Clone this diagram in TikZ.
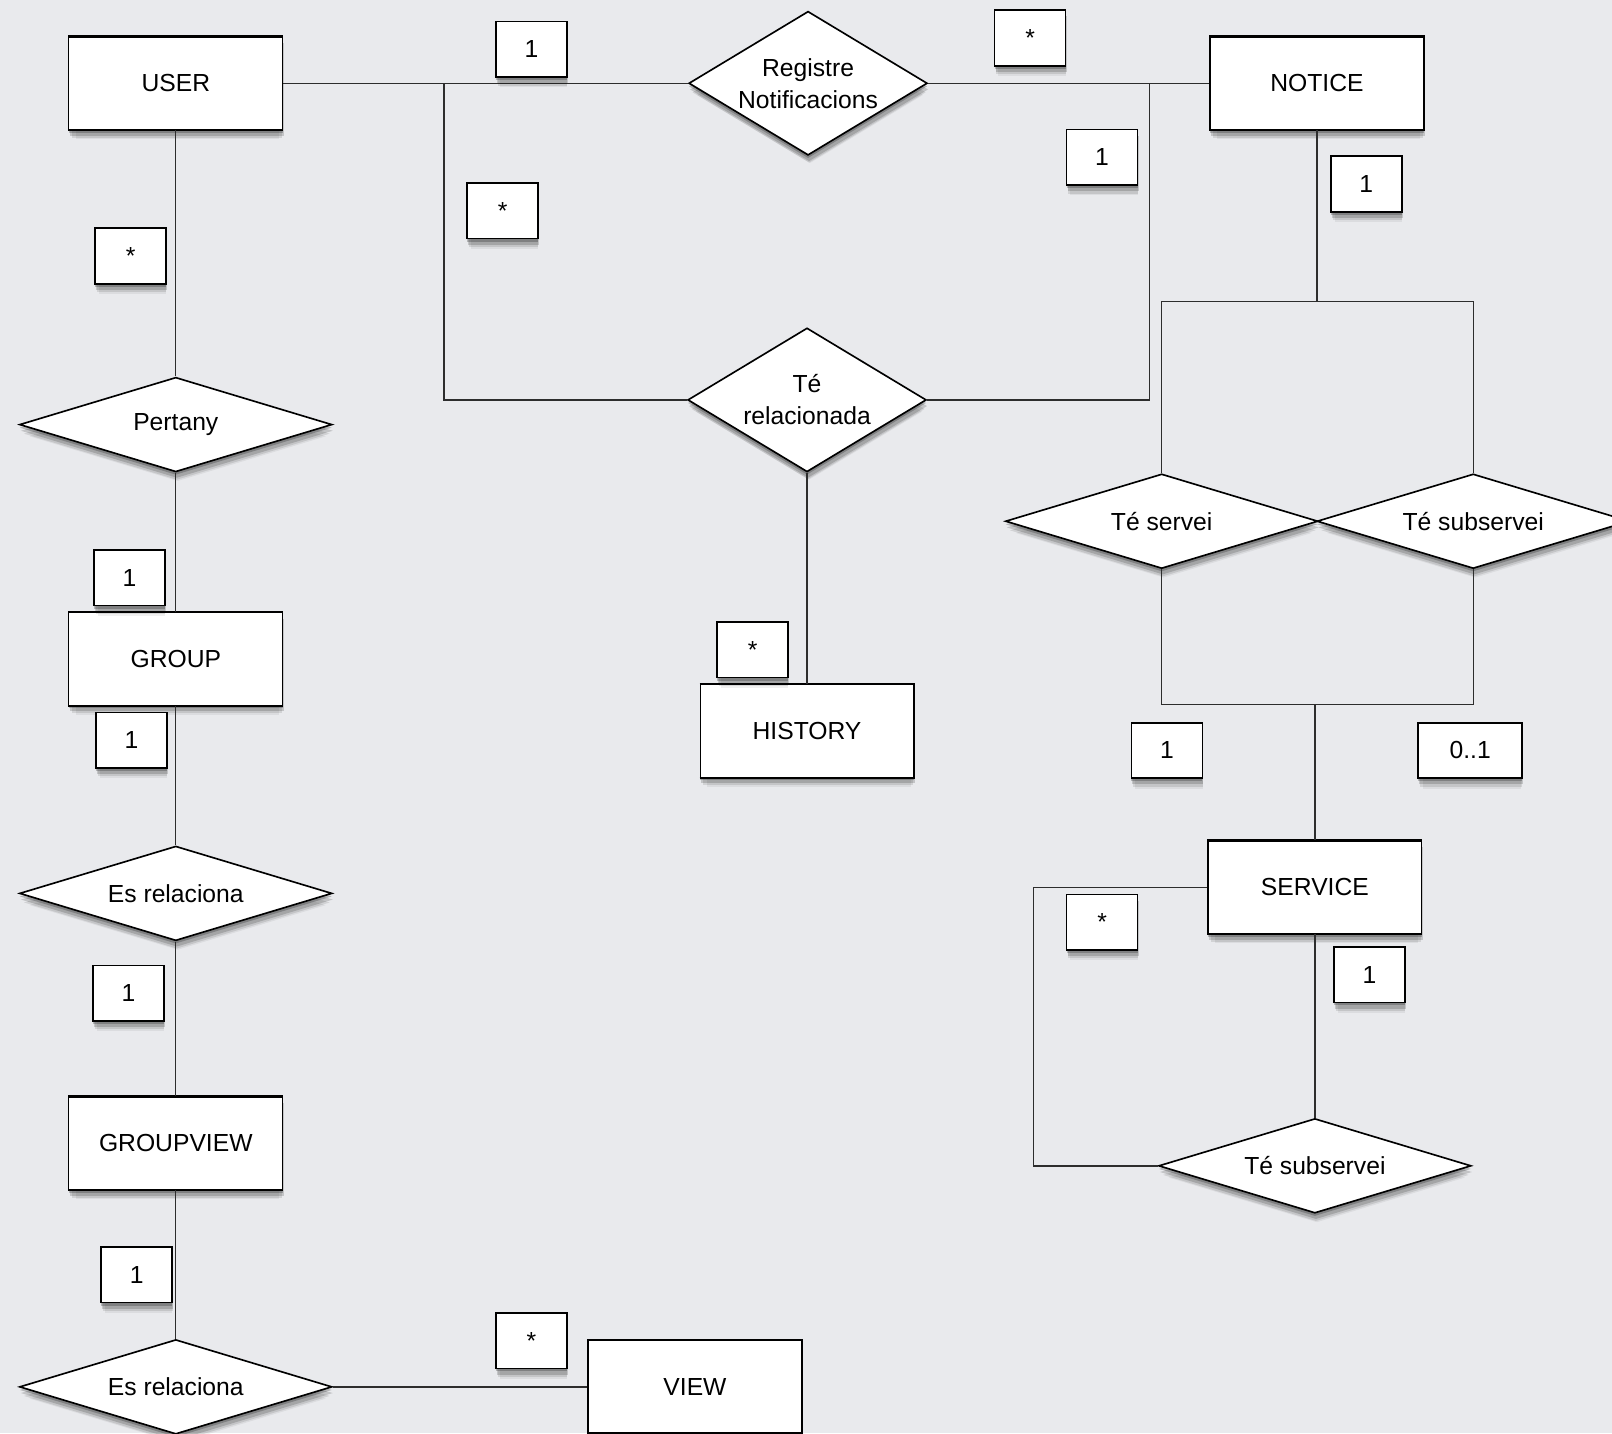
\documentclass[tikz,border=0pt]{standalone}
\usepackage{fontspec}
\setmainfont{Liberation Sans}
\usetikzlibrary{shapes.geometric,shadows}
\definecolor{bgcol}{RGB}{233,234,237}
\definecolor{conncol}{RGB}{45,45,45}
\begin{document}
\begin{tikzpicture}[x=1pt,y=-1pt,
  every node/.style={font=\fontsize{24}{31}\selectfont},
  softshadow/.style={
    drop shadow={shadow xshift=0pt,shadow yshift=-3pt,opacity=.22,fill=black},
    drop shadow={shadow xshift=1pt,shadow yshift=-6pt,opacity=.16,fill=black},
    drop shadow={shadow xshift=1pt,shadow yshift=-9pt,shadow scale=.98,opacity=.10,fill=black},
    drop shadow={shadow xshift=2pt,shadow yshift=-12pt,shadow scale=.95,opacity=.06,fill=black}},
  entity/.style={draw=black,fill=white,line width=1.2pt,minimum width=208pt,
    minimum height=90pt,inner sep=0pt,softshadow},
  relbase/.style={diamond,draw=black,fill=white,line width=1.6pt,inner sep=0pt,
    align=center,softshadow},
  bigrel/.style={relbase,minimum width=232pt,minimum height=140pt,aspect=1.66},
  smallrel/.style={relbase,minimum width=304pt,minimum height=92pt,aspect=3.3},
  card/.style={draw=black,fill=white,line width=1.6pt,minimum width=69pt,
    minimum height=54pt,inner sep=0pt,softshadow},
  conn/.style={draw=conncol,line width=1.3pt}
]
\useasboundingbox (0,0) rectangle (1568,1394);
\clip (0,0) rectangle (1568,1394);
\fill[bgcol] (0,0) rectangle (1568,1394);

% entities
\node[entity] (user) at (171,81) {USER};
\node[entity] (notice) at (1281,81) {NOTICE};
\node[entity] (group) at (171,641) {GROUP};
\node[entity] (history) at (785,711) {HISTORY};
\node[entity] (service) at (1279,863) {SERVICE};
\node[entity] (groupview) at (171,1112) {GROUPVIEW};
\node[entity] (view) at (676,1349) {VIEW};
\foreach \n in {user,notice,group,history,service,groupview,view}{
  \draw[line width=2.6pt] (\n.north west) -- (\n.north east)
                          (\n.south west) -- (\n.south east);
}

% relationships
\node[bigrel] (reg) at (786,81) {Registre\\Notificacions};
\node[bigrel] (terel) at (785,389) {Té\\relacionada};
\node[smallrel] (pertany) at (171,413) {Pertany};
\node[smallrel] (esrel1) at (171,869) {Es relaciona};
\node[smallrel] (esrel2) at (171,1349) {Es relaciona};
\node[smallrel] (teservei) at (1130,507) {Té servei};
\node[smallrel] (tesub1) at (1433,507) {Té subservei};
\node[smallrel] (tesub2) at (1279,1134) {Té subservei};

% junction points
\coordinate (j1) at (432,81);
\coordinate (j2) at (1118,81);
\coordinate (j3) at (1281,293);
\coordinate (j4) at (1279,685);
\coordinate (j5) at (1005,863);

% connectors
\draw[conn] (user.east) -- (reg.west);
\draw[conn] (reg.east) -- (notice.west);
\draw[conn] (j1) |- (terel.west);
\draw[conn] (terel.east) -| (j2);
\draw[conn] (terel.south) -- (history.north);
\draw[conn] (notice.south) -- (j3);
\draw[conn] (teservei.north) |- (j3) -| (tesub1.north);
\draw[conn] (teservei.south) |- (j4) -| (tesub1.south);
\draw[conn] (j4) -- (service.north);
\draw[conn] (service.west) -- (j5) |- (tesub2.west);
\draw[conn] (service.south) -- (tesub2.north);
\draw[conn] (user.south) -- (pertany.north);
\draw[conn] (pertany.south) -- (group.north);
\draw[conn] (group.south) -- (esrel1.north);
\draw[conn] (esrel1.south) -- (groupview.north);
\draw[conn] (groupview.south) -- (esrel2.north);
\draw[conn] (esrel2.east) -- (view.west);

% cardinalities
\node[card] (c1) at (517,48) {1};
\node[card] (c2) at (1002,37) {*};
\node[card] (c3) at (1072,153) {1};
\node[card] (c4) at (489,205) {*};
\node[card] (c5) at (127,249) {*};
\node[card] (c6) at (1329,179) {1};
\node[card] (c7) at (126,562) {1};
\node[card] (c8) at (128,720) {1};
\node[card] (c9) at (732,632) {*};
\node[card] (c10) at (1135,730) {1};
\node[card,minimum width=101pt] (c11) at (1430,730) {0..1};
\node[card] (c12) at (1072,897) {*};
\node[card] (c13) at (1332,948) {1};
\node[card] (c14) at (125,966) {1};
\node[card] (c15) at (133,1240) {1};
\node[card] (c16) at (517,1304) {*};
\end{tikzpicture}
\end{document}
